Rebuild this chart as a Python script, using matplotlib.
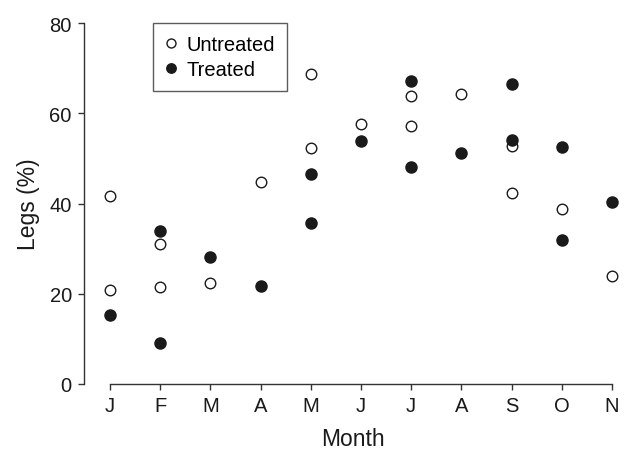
import matplotlib
matplotlib.use("Agg")
import matplotlib.pyplot as plt

plt.rcParams['font.family'] = ['Liberation Sans', 'DejaVu Sans']

months = ['J', 'F', 'M', 'A', 'M', 'J', 'J', 'A', 'S', 'O', 'N']

# month index, value
untreated_x = [0, 0, 1, 1, 2, 3, 4, 4, 5, 6, 6, 7, 8, 8, 9, 10]
untreated_y = [41.6, 20.9, 31.0, 21.5, 22.3, 44.7, 68.7, 52.4, 57.6, 63.9, 57.2, 64.3, 52.8, 42.3, 38.7, 23.9]

treated_x = [0, 1, 1, 2, 3, 4, 4, 5, 6, 6, 7, 8, 8, 9, 9, 10]
treated_y = [15.4, 33.8, 9.0, 28.1, 21.7, 46.5, 35.7, 53.9, 67.2, 48.0, 51.2, 66.5, 54.1, 52.5, 32.0, 40.3]

W, H = 627, 452
fig = plt.figure(figsize=(W / 100, H / 100), dpi=100)
ax = fig.add_axes([84 / W, (H - 385) / H, (622 - 84) / W, (385 - 24) / H])

ax.plot(untreated_x, untreated_y, 'o', ms=7.6, mfc='white', mec='#1a1a1a', mew=1.0,
        label='Untreated', clip_on=False, zorder=3)
ax.plot(treated_x, treated_y, 'o', ms=8.0, mfc='#1a1a1a', mec='#1a1a1a', mew=1.0,
        label='Treated', clip_on=False, zorder=3)

ax.set_xlim(-26 / 50.2, 10 + 10 / 50.2)
ax.set_ylim(0, 80)

for s in ['top', 'right']:
    ax.spines[s].set_visible(False)
ax.spines['bottom'].set_bounds(0, 10)
ax.spines['left'].set_bounds(0, 80)
for s in ['left', 'bottom']:
    ax.spines[s].set_color('#333333')
    ax.spines[s].set_linewidth(1.0)

ax.set_xticks(range(len(months)))
ax.set_xticklabels(months)
ax.set_yticks([0, 20, 40, 60, 80])
ax.tick_params(axis='both', direction='out', length=4.3, width=1.0, color='#333333',
               labelsize=14.5, labelcolor='#1a1a1a', pad=4.5)

ax.set_xlabel('Month', fontsize=16.5, color='#1a1a1a', labelpad=8.5)
ax.set_ylabel('Legs (%)', fontsize=16.5, color='#1a1a1a', labelpad=7)

leg = ax.legend(loc='upper left', bbox_to_anchor=(153 / W, 1 - 24 / H), bbox_transform=fig.transFigure,
                frameon=True, fancybox=False, fontsize=14.5, handlelength=0.6, handletextpad=0.45,
                borderpad=0.6, labelspacing=0.28, borderaxespad=0, markerscale=0.85)
leg.get_frame().set_edgecolor('#333333')
leg.get_frame().set_linewidth(1.0)

fig.savefig('out.png', dpi=100)
